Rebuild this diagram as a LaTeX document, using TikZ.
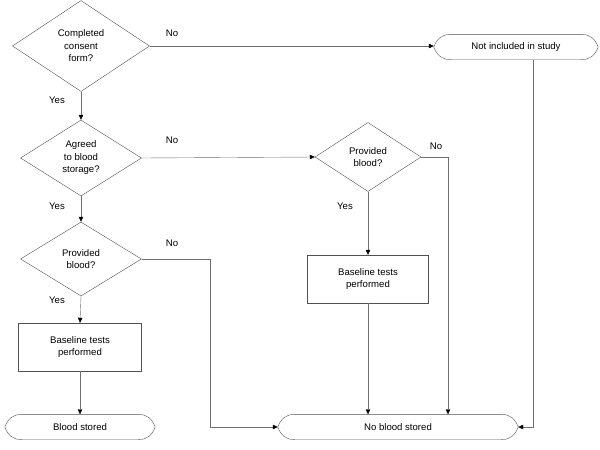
\documentclass[tikz,border=0pt]{standalone}
\usepackage{fontspec}
\setmainfont{Liberation Sans}
\usetikzlibrary{shapes.geometric,arrows.meta}
\newcommand\terminaloutline[1]{%
  \draw[shapegray] (#1.west) .. controls +(3pt,8pt) and +(-9pt,0pt) .. ([xshift=17pt]#1.north west)
    -- ([xshift=-17pt]#1.north east) .. controls +(9pt,0pt) and +(-3pt,8pt) .. (#1.east)
    .. controls +(-3pt,-8pt) and +(9pt,0pt) .. ([xshift=-17pt]#1.south east)
    -- ([xshift=17pt]#1.south west) .. controls +(-9pt,0pt) and +(3pt,-8pt) .. (#1.west);}
\begin{document}
\begin{tikzpicture}[x=1pt,y=-1pt,font=\fontsize{9.6}{12.5}\selectfont,
  decision/.style={diamond,draw=shapegray,inner sep=0pt,aspect=1.6,align=center},
  stepbox/.style={rectangle,draw=shapegray,inner sep=0pt,align=center},
  terminal/.style={rectangle,inner sep=0pt,minimum height=25pt},
  flow/.style={draw=linegray,-{Triangle[length=5pt,width=4.5pt,color=black]}}]
  \definecolor{shapegray}{RGB}{80,80,80}
  \definecolor{linegray}{RGB}{110,110,110}

  \useasboundingbox (0,0) rectangle (600,450);

  \node[decision,minimum width=137pt,minimum height=91pt] (consent) at (81,46) {Completed\\consent\\form?};
  \node[decision,minimum width=121pt,minimum height=76pt] (storage) at (81,158) {Agreed\\to blood\\storage?};
  \node[decision,minimum width=121pt,minimum height=74pt] (givenL) at (81,259) {Provided\\blood?};
  \node[decision,minimum width=106pt,minimum height=69pt] (givenR) at (368,157) {Provided\\blood?};

  \node[stepbox,minimum width=123pt,minimum height=48pt] (testsL) at (80,347) {Baseline tests\\performed};
  \node[stepbox,minimum width=121pt,minimum height=48pt] (testsR) at (368,279) {Baseline tests\\performed};

  \node[terminal,minimum width=150pt] (stored) at (80,427) {Blood stored};
  \node[terminal,minimum width=240pt] (notstored) at (398,427) {No blood stored};
  \node[terminal,minimum width=164pt] (excluded) at (516,47) {Not included in study};
  \terminaloutline{stored}
  \terminaloutline{notstored}
  \terminaloutline{excluded}

  \node (no1) at (172,33) {No};
  \node (yes1) at (57,100) {Yes};
  \node (no2) at (172,140) {No};
  \node (yes2) at (57,206) {Yes};
  \node (no3) at (172,243) {No};
  \node (yes3) at (57,300) {Yes};
  \node (no4) at (436,146) {No};
  \node (yes4) at (345,206) {Yes};

  \coordinate (jL) at (210,259);
  \coordinate (jR) at (448,157);
  \coordinate (jX) at (533,427);

  \draw[flow] (consent.east) -- (consent.east -| excluded.west);
  \draw[flow] (consent.south) -- (storage.north);
  \draw[flow] (storage.east) -- (givenR.west);
  \draw[flow] (storage.south) -- (givenL.north);
  \draw[flow] (givenL.south) -- (testsL.north);
  \draw[flow] (testsL.south) -- (stored.north);
  \draw[flow] (givenL.east) -- (jL) |- (notstored.west);
  \draw[flow] (givenR.south) -- (testsR.north);
  \draw[flow] (testsR.south) -- (testsR.south |- notstored.north);
  \draw[flow] (givenR.east) -- (jR) -- (jR |- notstored.north);
  \draw[flow] (excluded.south -| jX) -- (jX) -- (notstored.east);
\end{tikzpicture}
\end{document}
